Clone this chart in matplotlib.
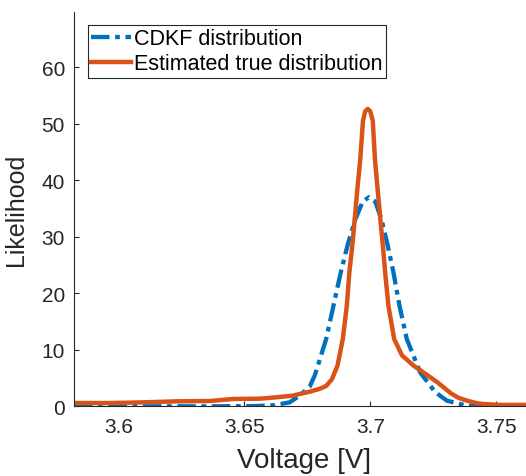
import matplotlib
matplotlib.use("Agg")
import matplotlib.pyplot as plt

# values
cdkf_v = [3.5824, 3.60, 3.62, 3.64, 3.655, 3.662, 3.668, 3.672, 3.676, 3.678,
          3.6825, 3.6854, 3.6883, 3.6910, 3.694, 3.697, 3.6995, 3.702, 3.7045,
          3.7069, 3.7092, 3.7116, 3.7145, 3.7198, 3.7258, 3.7304, 3.7384, 3.745, 3.766]
cdkf_l = [0, 0, 0, 0, 0.05, 0.2, 0.7, 1.9, 3.5, 5.5,
          11.9, 17.8, 23.7, 28.5, 33.0, 36.2, 37.0, 36.2, 33.0,
          28.5, 23.7, 17.8, 11.9, 6.0, 2.5, 1.0, 0.1, 0, 0]

true_v = [3.5824, 3.5967, 3.6099, 3.6232, 3.6364, 3.6457, 3.6563, 3.6629, 3.6695,
          3.6721, 3.6761, 3.6800, 3.6825, 3.6848, 3.6870, 3.6891, 3.6907, 3.6917,
          3.6929, 3.6937, 3.6950, 3.6960, 3.6971, 3.6980, 3.6990, 3.7000, 3.7010,
          3.7019, 3.7030, 3.7043, 3.7052, 3.7059, 3.7072, 3.7095, 3.7126, 3.7172,
          3.7211, 3.7265, 3.7290, 3.7320, 3.7350, 3.7384, 3.7423, 3.745, 3.7516, 3.766]
true_l = [0.58, 0.58, 0.7, 0.88, 0.94, 1.3, 1.35, 1.6, 1.9,
          2.2, 2.6, 3.1, 3.6, 4.8, 7.2, 11.9, 17.8, 23.7,
          28.5, 32.5, 39.0, 43.5, 50.5, 52.2, 52.6, 52.2, 50.5,
          43.5, 38.0, 31.7, 27.5, 23.7, 17.8, 11.9, 9.0, 7.2,
          6.0, 4.3, 3.4, 2.3, 1.5, 1.0, 0.55, 0.4, 0.25, 0.25]

x_ticks = [3.6, 3.65, 3.7, 3.75]
x_tick_labels = ["3.6", "3.65", "3.7", "3.75"]
y_ticks = [0, 10, 20, 30, 40, 50, 60]

plt.rcParams['font.family'] = ['Liberation Sans', 'DejaVu Sans']
text_col = '#262626'

fig = plt.figure(figsize=(5.26, 4.77), dpi=100)
ax = fig.add_axes([74 / 526, 69.7 / 477, 460 / 526, 394 / 477])

ax.plot(cdkf_v, cdkf_l, color='#0072BD', lw=3.1,
        linestyle=(0, (4.3, 1.3, 1.1, 1.3)), label='CDKF distribution')
ax.plot(true_v, true_l, color='#D95319', lw=3.2, solid_joinstyle='round',
        label='Estimated true distribution')

ax.set_xlim(3.5824, 3.765)
ax.set_ylim(0, 69.7)
ax.set_xticks(x_ticks)
ax.set_xticklabels(x_tick_labels)
ax.set_yticks(y_ticks)

for s in ['top', 'right']:
    ax.spines[s].set_visible(False)
for s in ['left', 'bottom']:
    ax.spines[s].set_color(text_col)
    ax.spines[s].set_linewidth(0.8)

ax.tick_params(axis='both', direction='in', length=3.5, width=0.8,
               colors=text_col, labelsize=15)
ax.tick_params(axis='x', pad=8)
ax.tick_params(axis='y', pad=6.5)

ax.set_xlabel('Voltage [V]', fontsize=20, color=text_col)
ax.set_ylabel('Likelihood', fontsize=18, color=text_col)
ax.xaxis.set_label_coords(0.5, -0.103)
ax.yaxis.set_label_coords(-0.0993, 0.5)

leg = ax.legend(loc='upper left', bbox_to_anchor=(0.0304, 0.968),
                borderaxespad=0, fontsize=15.5, handlelength=1.86,
                handletextpad=0.14, borderpad=0.15, labelspacing=0.2,
                fancybox=False, framealpha=1)
leg.get_frame().set_edgecolor(text_col)
leg.get_frame().set_linewidth(0.8)

fig.savefig('out.png', dpi=100)
